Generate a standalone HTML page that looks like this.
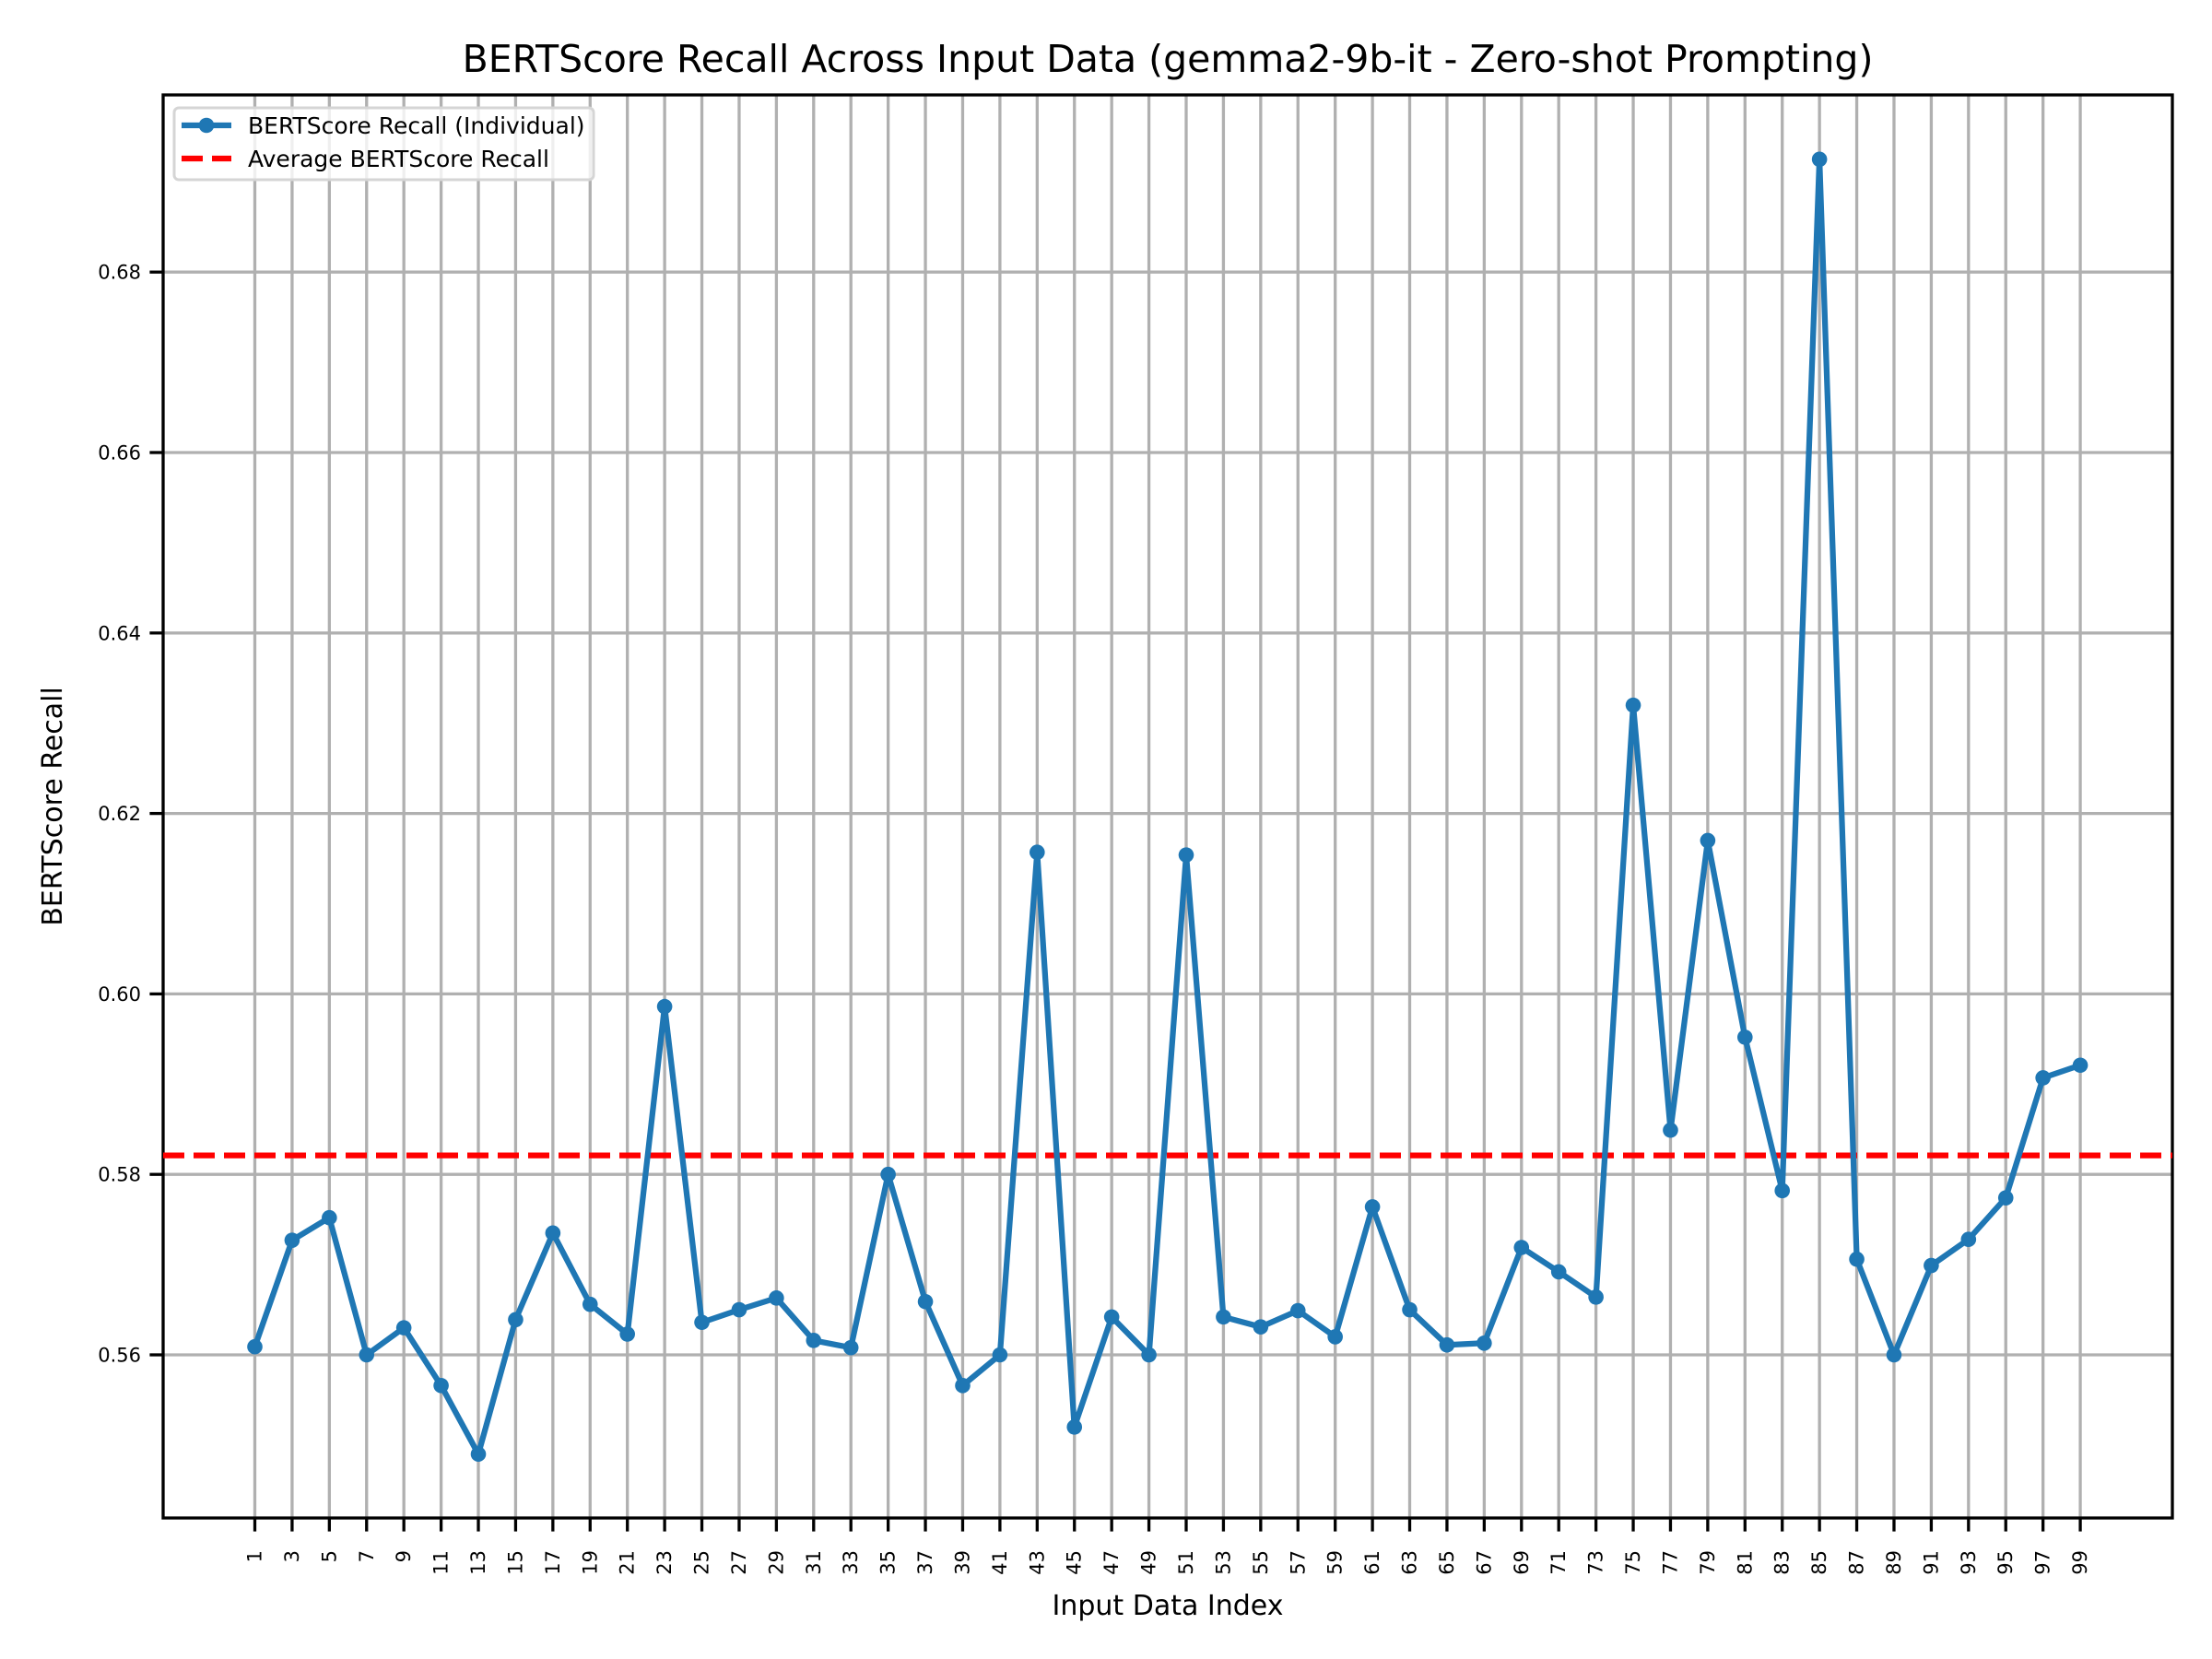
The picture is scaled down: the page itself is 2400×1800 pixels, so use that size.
<!DOCTYPE html>
<html><head><meta charset="utf-8"><style>
html,body{margin:0;padding:0;background:#fff;}
svg{display:block;font-family:"DejaVu Sans","Liberation Sans",sans-serif;}
</style></head><body>
<svg id="chart" width="2400" height="1800" viewBox="0 0 2400 1800" xmlns="http://www.w3.org/2000/svg">
<rect width="2400" height="1800" fill="#fff"/>
<g id="grid"></g>
<g id="avg"></g>
<g id="series"></g>
<rect x="177" y="103" width="2180" height="1544" fill="none" stroke="#000" stroke-width="3.3"/>
<g id="xticks"></g>
<g id="yticks"></g>
<text x="1267" y="78" font-size="41" text-anchor="middle">BERTScore Recall Across Input Data (gemma2-9b-it - Zero-shot Prompting)</text>
<text x="1267" y="1752" font-size="30" text-anchor="middle">Input Data Index</text>
<text transform="translate(67,875) rotate(-90)" font-size="30" text-anchor="middle">BERTScore Recall</text>
<g>
<rect x="189" y="117" width="455" height="78" rx="5" fill="#fff" fill-opacity="0.8" stroke="#d5d5d5" stroke-width="3"/>
<g>
<line x1="197" y1="136" x2="251" y2="136" stroke="#1f77b4" stroke-width="6.25"/>
<circle cx="224" cy="136" r="8.3" fill="#1f77b4"/>
<text x="269" y="145" font-size="25">BERTScore Recall (Individual)</text>
</g>
<g>
<line x1="197" y1="172" x2="251" y2="172" stroke="#ff0000" stroke-width="6.25" stroke-dasharray="23,10"/>
<text x="269" y="181" font-size="25">Average BERTScore Recall</text>
</g>
</g>
</svg>
<script>
const xIndex = [];
for (let i = 1; i <= 99; i += 2) xIndex.push(i);
const recallValues = [0.5609,0.5727,0.5752,0.5600,0.5630,0.5566,0.5490,0.5639,0.5735,0.5656,
0.5623,0.5986,0.5636,0.5650,0.5663,0.5616,0.5608,0.5800,0.5659,0.5566,
0.5600,0.6157,0.5520,0.5642,0.5600,0.6154,0.5642,0.5631,0.5649,0.5620,
0.5764,0.5650,0.5611,0.5613,0.5719,0.5692,0.5664,0.6320,0.5849,0.6170,
0.5952,0.5782,0.6925,0.5706,0.5600,0.5699,0.5728,0.5774,0.5907,0.5921];
const averageRecall = 0.5821;
const yTickValues = [0.56,0.58,0.60,0.62,0.64,0.66,0.68];
const yTickLabels = ["0.56","0.58","0.60","0.62","0.64","0.66","0.68"];

const NS = "http://www.w3.org/2000/svg";
const L = 177, R = 2357, T = 103, B = 1647;
function xs(v){ return 276.5 + (v - 1) * 20.21; }
function ys(v){ return 1470 - (v - 0.56) * 9790; }
function mk(tag, attrs, parent){ const e = document.createElementNS(NS, tag); for (const k in attrs) e.setAttribute(k, attrs[k]); parent.appendChild(e); return e; }

const grid = document.getElementById('grid');
const xt = document.getElementById('xticks');
const yt = document.getElementById('yticks');
xIndex.forEach(v => {
  const x = xs(v);
  const g = mk('line', {x1:x, x2:x, y1:T, y2:B, stroke:'#b0b0b0', 'stroke-width':3.3}, grid);
  
  
  const t = mk('line', {x1:x, x2:x, y1:B, y2:B+14.6, stroke:'#000', 'stroke-width':3.3}, xt);
  
  
  const lb = mk('text', {transform:'translate(' + (x + 7) + ',' + (B + 35) + ') rotate(-90)', 'font-size':21, 'text-anchor':'end'}, xt);
  lb.textContent = String(v);
  
  
});
yTickValues.forEach((v, i) => {
  const y = ys(v);
  const g = mk('line', {x1:L, x2:R, y1:y, y2:y, stroke:'#b0b0b0', 'stroke-width':3.3}, grid);
  
  
  const t = mk('line', {x1:L-14.6, x2:L, y1:y, y2:y, stroke:'#000', 'stroke-width':3.3}, yt);
  
  
  const lb = mk('text', {x:L-24, y:y+7.5, 'font-size':21, 'text-anchor':'end'}, yt);
  lb.textContent = yTickLabels[i];
  
  
});

const series = document.getElementById('series');
const pts = xIndex.map((v, i) => xs(v).toFixed(1) + ',' + ys(recallValues[i]).toFixed(1)).join(' ');
const pl = mk('polyline', {points:pts, fill:'none', stroke:'#1f77b4', 'stroke-width':6.25, 'stroke-linejoin':'round', 'stroke-linecap':'square'}, series);


xIndex.forEach((v, i) => {
  const c = mk('circle', {cx:xs(v), cy:ys(recallValues[i]), r:8.3, fill:'#1f77b4'}, series);
  
  
});

const avg = document.getElementById('avg');
const al = mk('line', {x1:L, x2:R, y1:ys(averageRecall), y2:ys(averageRecall), stroke:'#ff0000', 'stroke-width':6.25, 'stroke-dasharray':'23,10'}, avg);


document.getElementById('chart').appendChild(avg);
document.getElementById('chart').appendChild(series);
</script>
</body></html>
